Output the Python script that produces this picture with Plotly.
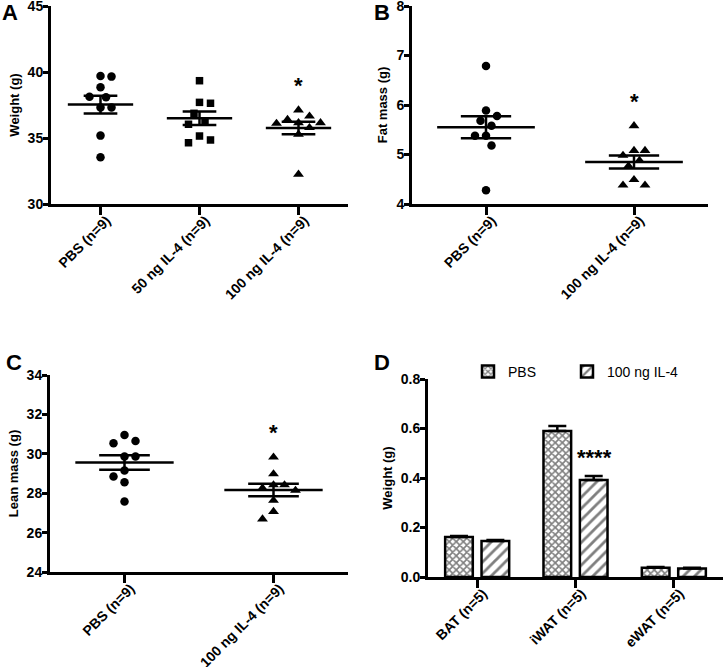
import numpy as np
import plotly.graph_objects as go

W, H = 725, 667

# ---------------- data ----------------
# Panel A: body weight (g)
a_groups = ["PBS (n=9)", "50 ng IL-4 (n=9)", "100 ng IL-4 (n=9)"]
a_pbs = [39.65, 39.70, 38.84, 38.08, 38.13, 37.32, 37.32, 35.18, 33.54]
a_il4_50 = [39.34, 37.63, 37.70, 36.87, 36.24, 36.04, 35.15, 34.64, 34.85]
a_il4_100 = [37.12, 36.15, 36.15, 36.40, 36.65, 36.10, 35.78, 35.28, 32.25]
a_ticks = [30, 35, 40, 45]

# Panel B: fat mass (g)
b_groups = ["PBS (n=9)", "100 ng IL-4 (n=9)"]
b_pbs = [6.79, 5.89, 5.78, 5.68, 5.58, 5.38, 5.38, 5.18, 4.28]
b_il4 = [5.58, 5.08, 5.08, 4.98, 4.88, 4.77, 4.49, 4.38, 4.38]
b_ticks = [4, 5, 6, 7, 8]

# Panel C: lean mass (g)
c_groups = ["PBS (n=9)", "100 ng IL-4 (n=9)"]
c_pbs = [30.96, 30.65, 30.54, 29.86, 29.86, 29.15, 28.85, 28.56, 27.58]
c_il4 = [29.83, 28.98, 28.42, 28.42, 28.14, 28.26, 27.63, 27.07, 26.69]
c_ticks = [24, 26, 28, 30, 32, 34]

# Panel D: tissue weight (g), mean and SEM
d_groups = ["BAT (n=5)", "iWAT (n=5)", "eWAT (n=5)"]
d_pbs_mean = [0.162, 0.590, 0.037]
d_pbs_sem = [0.004, 0.020, 0.003]
d_il4_mean = [0.145, 0.392, 0.034]
d_il4_sem = [0.004, 0.016, 0.003]
d_ticks = [0.0, 0.2, 0.4, 0.6, 0.8]

# ---------------- layout helpers ----------------
FONT = "Liberation Sans, Arial, sans-serif"
# panel plot boxes in pixels: left, right, top, bottom
boxes = {
    "A": (51, 348, 6, 204),
    "B": (412, 708, 6, 204),
    "C": (50, 348, 375, 572),
    "D": (428, 723, 379, 577),
}


def xdom(k):
    l, r, t, b = boxes[k]
    return [l / W, r / W]


def ydom(k):
    l, r, t, b = boxes[k]
    return [1 - b / H, 1 - t / H]


def swarm(vals, ppx, ppy, spacing=11.0):
    """Spread points horizontally so markers do not overlap (pixel space)."""
    order = sorted(range(len(vals)), key=lambda i: -vals[i])
    placed = []
    offs = [0.0] * len(vals)
    for i in order:
        y = -vals[i] * ppy
        bal = sum(p[0] for p in placed)
        k = 0
        found = None
        while found is None:
            if k == 0:
                cands = [0.0]
            else:
                s = k * spacing / 2
                cands = [-s, s] if bal > 0 else [s, -s]
            for cx in cands:
                if all((cx - px) ** 2 + (y - py) ** 2 >= spacing ** 2 for px, py in placed):
                    found = cx
                    break
            k += 1
        placed.append((found, y))
        offs[i] = found / ppx
    return offs


fig = go.Figure()


def dot_panel(key, ax, groups, series, symbols, sizes, ticks):
    l, r, t, b = boxes[key]
    n = len(groups)
    xr = [-0.5, n - 0.5]
    yr = [ticks[0], ticks[-1]]
    ppx = (r - l) / (xr[1] - xr[0])
    ppy = (b - t) / (yr[1] - yr[0])
    for c, (vals, sym, sz) in enumerate(zip(series, symbols, sizes)):
        offs = swarm(vals, ppx, ppy)
        fig.add_trace(go.Scatter(
            x=[c + o for o in offs], y=vals, mode="markers",
            marker=dict(symbol=sym, size=sz, color="black", line=dict(width=0)),
            xaxis="x" + ax, yaxis="y" + ax, showlegend=False, hoverinfo="y"))
        arr = np.array(vals)
        m = arr.mean()
        se = arr.std(ddof=1) / np.sqrt(len(arr))
        fig.add_trace(go.Scatter(
            x=[c - 0.33, c + 0.33, None, c - 0.17, c + 0.17, None,
               c - 0.17, c + 0.17, None, c, c],
            y=[m, m, None, m + se, m + se, None, m - se, m - se, None, m - se, m + se],
            mode="lines", line=dict(color="black", width=2.5),
            xaxis="x" + ax, yaxis="y" + ax, showlegend=False, hoverinfo="skip"))
    return xr, yr


tickfont = dict(family=FONT, size=14, color="black", weight="bold")
titlefont = dict(family=FONT, size=13, color="black", weight="bold")
XSTANDOFF = -8
XSHIFT = 6


def xaxis_cfg(key, anchor, xr, groups):
    return dict(domain=xdom(key), anchor=anchor, range=xr, automargin=False,
                tickvals=list(range(len(groups))), ticktext=groups,
                tickangle=-45, tickfont=tickfont, ticklabelstandoff=XSTANDOFF,
                ticklabelshift=XSHIFT, ticklabeloverflow="allow",
                showline=True, linewidth=3, linecolor="black",
                ticks="outside", ticklen=8, tickwidth=3, tickcolor="black",
                showgrid=False, zeroline=False)


def yaxis_cfg(key, anchor, yr, ticks, title, labels=None):
    return dict(domain=ydom(key), anchor=anchor, range=yr, automargin=False,
                tickvals=ticks, ticktext=labels if labels else [str(v) for v in ticks],
                tickfont=tickfont, ticklabelstandoff=-3, ticklabeloverflow="allow",
                title=dict(text=title, font=titlefont, standoff=6),
                showline=True, linewidth=3, linecolor="black",
                ticks="outside", ticklen=5, tickwidth=3, tickcolor="black",
                showgrid=False, zeroline=False)


# Panel A
xrA, yrA = dot_panel("A", "", a_groups, [a_pbs, a_il4_50, a_il4_100],
                     ["circle", "square", "triangle-up"], [8.5, 7.5, 9.5], a_ticks)
# Panel B
xrB, yrB = dot_panel("B", "2", b_groups, [b_pbs, b_il4],
                     ["circle", "triangle-up"], [8.5, 9.5], b_ticks)
# Panel C
xrC, yrC = dot_panel("C", "3", c_groups, [c_pbs, c_il4],
                     ["circle", "triangle-up"], [8.5, 9.5], c_ticks)

# Panel D bars
fig.add_trace(go.Bar(
    x=d_groups, y=d_pbs_mean, name="PBS", xaxis="x4", yaxis="y4", legend="legend",
    marker=dict(color="white", line=dict(color="black", width=2.5),
                pattern=dict(shape="x", fgcolor="black", bgcolor="white",
                             size=5, solidity=0.55)),
    error_y=dict(type="data", array=d_pbs_sem, arrayminus=[0] * len(d_pbs_sem),
                 symmetric=False, color="black", thickness=2.5, width=9)))
fig.add_trace(go.Bar(
    x=d_groups, y=d_il4_mean, name="100 ng IL-4", xaxis="x4", yaxis="y4", legend="legend2",
    marker=dict(color="white", line=dict(color="black", width=2.5),
                pattern=dict(shape="/", fgcolor="black", bgcolor="white",
                             size=8, solidity=0.35)),
    error_y=dict(type="data", array=d_il4_sem, arrayminus=[0] * len(d_il4_sem),
                 symmetric=False, color="black", thickness=2.5, width=9)))

legend_common = dict(orientation="h", xanchor="left", yanchor="top",
                     font=dict(family=FONT, size=14, color="black"),
                     bgcolor="rgba(0,0,0,0)")

layout = dict(
    width=W, height=H, margin=dict(l=0, r=0, t=0, b=0, autoexpand=False),
    paper_bgcolor="white", plot_bgcolor="white",
    font=dict(family=FONT, color="black"),
    barmode="group", bargap=0.26, bargroupgap=0.24,
    showlegend=True,
    legend=dict(x=468 / W, y=1 - 356 / H, **legend_common),
    legend2=dict(x=567 / W, y=1 - 356 / H, **legend_common),
    xaxis=xaxis_cfg("A", "y", xrA, a_groups),
    yaxis=yaxis_cfg("A", "x", yrA, a_ticks, "Weight (g)"),
    xaxis2=xaxis_cfg("B", "y2", xrB, b_groups),
    yaxis2=yaxis_cfg("B", "x2", yrB, b_ticks, "Fat mass (g)"),
    xaxis3=xaxis_cfg("C", "y3", xrC, c_groups),
    yaxis3=yaxis_cfg("C", "x3", yrC, c_ticks, "Lean mass (g)"),
    xaxis4=dict(domain=xdom("D"), anchor="y4", type="category", tickangle=-45,
                automargin=False, ticklabelstandoff=XSTANDOFF, ticklabelshift=XSHIFT,
                ticklabeloverflow="allow",
                tickfont=tickfont, showline=True, linewidth=3, linecolor="black",
                ticks="outside", ticklen=8, tickwidth=3, tickcolor="black",
                showgrid=False, zeroline=False, range=[-0.5, 2.5]),
    yaxis4=yaxis_cfg("D", "x4", [0, 0.8], d_ticks, "Weight (g)",
                     labels=["%.1f" % v for v in d_ticks]),
)
fig.update_layout(**layout)

# significance stars
star_font = dict(family=FONT, size=22, color="black", weight="bold")
for ax, vals, c, yr in [("", a_il4_100, 2, yrA), ("2", b_il4, 1, yrB), ("3", c_il4, 1, yrC)]:
    fig.add_annotation(x=c, y=max(vals) + 0.14 * (yr[1] - yr[0]), text="*",
                       xref="x" + ax, yref="y" + ax, showarrow=False,
                       font=star_font, yanchor="middle", yshift=-3)
top_il4 = d_il4_mean[1] + d_il4_sem[1]
fig.add_annotation(x=d_groups[1], y=top_il4 + 0.106 * 0.8, text="****",
                   xref="x4", yref="y4", xshift=19, showarrow=False,
                   font=star_font, yanchor="middle", yshift=-2)

# panel letters
letter_font = dict(family=FONT, size=22, color="black", weight="bold")
for txt, px, py in [("A", 0, -2), ("B", 372, -2), ("C", 4, 348), ("D", 372, 348)]:
    fig.add_annotation(x=px / W, y=1 - py / H, xref="paper", yref="paper",
                       text=txt, showarrow=False, xanchor="left", yanchor="top",
                       font=letter_font)

fig.write_html("out.html", config={"displayModeBar": False},
               post_script="document.body.style.margin='0';")
